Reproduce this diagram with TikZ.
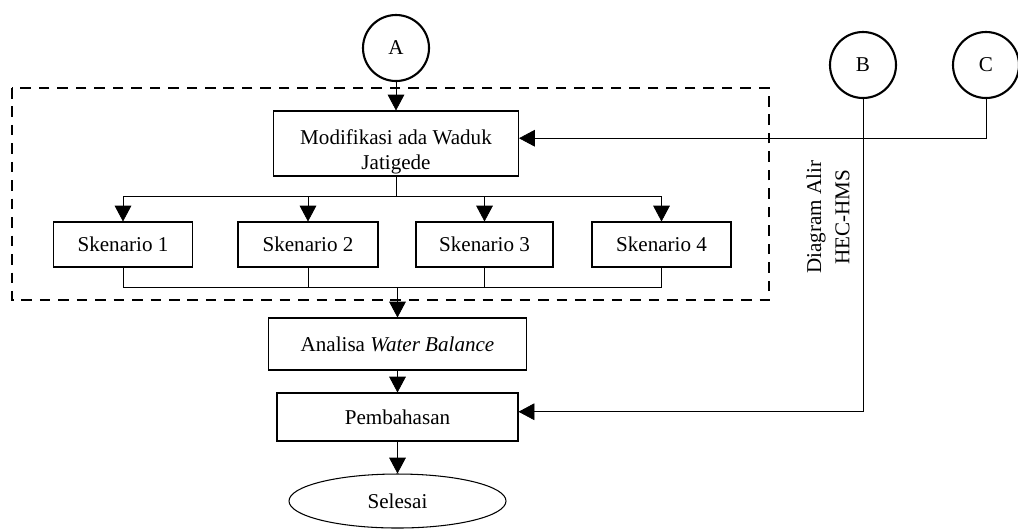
\documentclass[tikz,border=0pt]{standalone}
\usepackage{fontspec}
\setmainfont{Liberation Serif}
\usepackage{tikz}
\usetikzlibrary{arrows.meta,shapes.geometric}

\begin{document}
\begin{tikzpicture}[thin,
	box/.style={draw,line width=0.6pt,align=center,inner sep=2pt},
	conn/.style={draw,circle,line width=1.2pt,minimum size=1.32cm,inner sep=0pt},
	arr/.style={->,>={Triangle[width=9.5pt,length=9pt]}},
	font=\fontsize{12}{14}\selectfont]
	\useasboundingbox (0,0) rectangle (20.36,-10.58);
	
	%CONNECTORS
	\node[conn] (A) at (7.92,-0.96) {A};
	\node[conn] (B) at (17.26,-1.30) {B};
	\node[conn] (C) at (19.72,-1.30) {C};
	
	%DASHED FRAME
	\draw[line width=1.1pt,dash pattern=on 6pt off 4.5pt] (0.24,-1.76) rectangle (15.38,-6.0);
	
	%BOXES
	\node[box,minimum width=4.9cm,minimum height=1.3cm] (mod) at (7.92,-2.87) {\raisebox{-0.17cm}[\height][\depth]{\begin{tabular}{@{}c@{}}Modifikasi ada Waduk\\Jatigede\end{tabular}}};
	\node[box,minimum width=2.78cm,minimum height=0.9cm] (s1) at (2.46,-4.89) {Skenario 1};
	\node[box,minimum width=2.8cm,minimum height=0.9cm] (s2) at (6.16,-4.89) {Skenario 2};
	\node[box,minimum width=2.74cm,minimum height=0.9cm] (s3) at (9.69,-4.89) {Skenario 3};
	\node[box,minimum width=2.78cm,minimum height=0.9cm] (s4) at (13.23,-4.89) {Skenario 4};
	\node[box,minimum width=5.16cm,minimum height=1.04cm] (ana) at (7.95,-6.88) {Analisa \textit{Water Balance}};
	\node[box,minimum width=4.82cm,minimum height=0.96cm] (pem) at (7.95,-8.34) {Pembahasan};
	\node[draw,ellipse,line width=0.6pt,minimum width=4.34cm,minimum height=1.08cm,inner sep=0pt] (end) at (7.95,-10.02) {Selesai};
	\node[rotate=90,align=center,font=\fontsize{12}{16}\selectfont] (hms) at (16.56,-4.34) {Diagram Alir\\HEC-HMS};
	
	%ARROWS
	\coordinate (bus1) at (7.92,-3.92);
	\coordinate (bus2) at (7.95,-5.74);
	\draw[arr] (A.south) -- (mod.north);
	\draw (mod.south) -- (bus1);
	\draw (bus1 -| s1.north) -- (bus1 -| s4.north);
	\foreach \s in {s1,s2,s3,s4}
		\draw[arr] (bus1 -| \s.north) -- (\s.north);
	\foreach \s in {s1,s2,s3,s4}
		\draw (\s.south) -- (bus2 -| \s.south);
	\draw (bus2 -| s1.south) -- (bus2 -| s4.south);
	\draw[arr] (bus2) -- (ana.north);
	\draw[arr] (ana.south) -- (pem.north);
	\draw[arr] (pem.south) -- (end.north);
	\draw[arr] (C.south) |- ([yshift=3pt]mod.east);
	\draw[arr] (B.south) |- ([yshift=3pt]pem.east);
\end{tikzpicture}
\end{document}
